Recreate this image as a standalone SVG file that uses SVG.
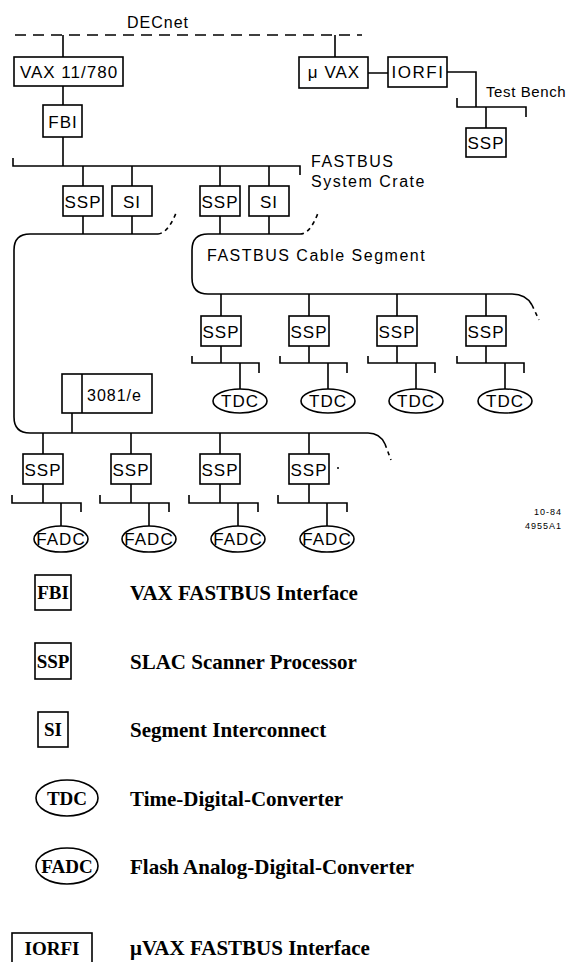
<svg xmlns="http://www.w3.org/2000/svg" width="574" height="962" viewBox="0 0 574 962">
<style>
.ln{fill:none;stroke:#000;stroke-width:1.6}
.ds{fill:none;stroke:#000;stroke-width:1.6;stroke-dasharray:4,4}
.bx{fill:#fff;stroke:#000;stroke-width:1.6}
.t{font-family:"Liberation Sans",Arial,sans-serif;font-size:17px;letter-spacing:1px;fill:#000;text-anchor:middle}
.tl{font-family:"Liberation Sans",Arial,sans-serif;font-size:16px;letter-spacing:1.5px;fill:#000}
.sm{font-family:"Liberation Sans",Arial,sans-serif;font-size:9px;letter-spacing:1px;fill:#000;text-anchor:end}
.lg{font-family:"Liberation Serif","Times New Roman",serif;font-weight:bold;font-size:21px;fill:#000}
.lc{text-anchor:middle;font-size:19px}
</style>
<rect width="574" height="962" fill="#fff"/>
<g id="connectors">
  <path class="ln" d="M15,35 H362" stroke-dasharray="11,7"/>
  <path class="ln" d="M63,35 V57 M63,86 V105 M63,137 V166"/>
  <path class="ln" d="M335,35 V57 M368,73 H388 M447,72 H476 V107"/>
  <path class="ln" d="M457,98 V107 H526 V117 M486,107 V128"/>
  <path class="ln" d="M13,158 V166 H300 V175"/>
  <path class="ln" d="M83,166 V186 M132,166 V186 M220,166 V186 M269,166 V186"/>
  <path class="ln" d="M83,216 V234 M132,216 V234 M220,216 V234 M269,216 V234"/>
  <path class="ln" d="M158,234 H30 Q14,234 14,250 V417 Q14,433 30,433 H368 Q380,433 385,444"/>
  <path class="ds" d="M158,234 Q168,233 176,213"/>
  <path class="ds" d="M385,444 L391,460"/>
  <path class="ln" d="M300,234 H208 Q192,234 192,250 V278 Q192,294 208,294 H512 Q526,294 532,305"/>
  <path class="ds" d="M300,234 Q310,234 318,213"/>
  <path class="ds" d="M532,305 L539,320"/>
  <path class="ln" d="M221,294 V316 M309,294 V316 M397,294 V316 M486,294 V316"/>
  <path class="ln" d="M221,346 V363 M192,356 V363 H259 V373 M240,363 V389"/>
  <path class="ln" d="M309,346 V363 M280,356 V363 H347 V373 M328,363 V389"/>
  <path class="ln" d="M397,346 V363 M368,356 V363 H435 V373 M416,363 V389"/>
  <path class="ln" d="M486,346 V363 M457,356 V363 H524 V373 M505,363 V389"/>
  <path class="ln" d="M72,413 V433"/>
  <path class="ln" d="M43,433 V454 M131,433 V454 M220,433 V454 M309,433 V454"/>
  <path class="ln" d="M43,484 V503 M12,495 V503 H81 V512 M61,503 V526"/>
  <path class="ln" d="M131,484 V503 M100,495 V503 H169 V512 M149,503 V526"/>
  <path class="ln" d="M220,484 V503 M189,495 V503 H258 V512 M238,503 V526"/>
  <path class="ln" d="M309,484 V503 M278,495 V503 H347 V512 M327,503 V526"/>
</g>
<text class="tl" x="158" y="28" style="text-anchor:middle;letter-spacing:1px">DECnet</text>
<g id="vax"><rect class="bx" x="14" y="57" width="109" height="29"/><text class="t" x="69" y="78">VAX 11/780</text></g>
<g id="fbi"><rect class="bx" x="43" y="105" width="39" height="32"/><text class="t" x="63" y="128">FBI</text></g>
<g id="uvax"><rect class="bx" x="299" y="57" width="69" height="31"/><text class="t" x="334" y="78">μ VAX</text></g>
<g id="iorfi"><rect class="bx" x="388" y="57" width="59" height="30"/><text class="t" x="418" y="78" style="letter-spacing:1.5px">IORFI</text></g>
<g id="ssp-tb"><rect class="bx" x="466" y="128" width="40" height="29"/><text class="t" x="486" y="149">SSP</text></g>
<text class="tl" x="486" y="97" style="font-size:15px;letter-spacing:0.6px">Test Bench</text>
<text class="tl" x="311" y="167">FASTBUS</text>
<text class="tl" x="311" y="187">System Crate</text>
<g id="ssp-c1"><rect class="bx" x="63" y="186" width="40" height="30"/><text class="t" x="83" y="208">SSP</text></g>
<g id="si-c1"><rect class="bx" x="112" y="186" width="40" height="30"/><text class="t" x="132" y="208">SI</text></g>
<g id="ssp-c2"><rect class="bx" x="200" y="186" width="40" height="30"/><text class="t" x="220" y="208">SSP</text></g>
<g id="si-c2"><rect class="bx" x="249" y="186" width="40" height="30"/><text class="t" x="269" y="208">SI</text></g>
<text class="tl" x="207" y="261">FASTBUS Cable Segment</text>
<g id="ssp-t1"><rect class="bx" x="201" y="316" width="40" height="30"/><text class="t" x="221" y="338">SSP</text></g>
<g id="ssp-t2"><rect class="bx" x="289" y="316" width="40" height="30"/><text class="t" x="309" y="338">SSP</text></g>
<g id="ssp-t3"><rect class="bx" x="377" y="316" width="40" height="30"/><text class="t" x="397" y="338">SSP</text></g>
<g id="ssp-t4"><rect class="bx" x="466" y="316" width="40" height="30"/><text class="t" x="486" y="338">SSP</text></g>
<g id="tdc1"><ellipse class="bx" cx="240" cy="401" rx="27" ry="12"/><text class="t" x="240" y="407">TDC</text></g>
<g id="tdc2"><ellipse class="bx" cx="328" cy="401" rx="27" ry="12"/><text class="t" x="328" y="407">TDC</text></g>
<g id="tdc3"><ellipse class="bx" cx="416" cy="401" rx="27" ry="12"/><text class="t" x="416" y="407">TDC</text></g>
<g id="tdc4"><ellipse class="bx" cx="505" cy="401" rx="27" ry="12"/><text class="t" x="505" y="407">TDC</text></g>
<g id="e3081"><rect class="bx" x="62" y="374" width="90" height="39"/><path class="ln" d="M82,374 V413"/><text class="tl" x="87" y="401" style="letter-spacing:1px">3081/e</text></g>
<g id="ssp-f1"><rect class="bx" x="23" y="454" width="40" height="30"/><text class="t" x="43" y="476">SSP</text></g>
<g id="ssp-f2"><rect class="bx" x="111" y="454" width="40" height="30"/><text class="t" x="131" y="476">SSP</text></g>
<g id="ssp-f3"><rect class="bx" x="200" y="454" width="40" height="30"/><text class="t" x="220" y="476">SSP</text></g>
<g id="ssp-f4"><rect class="bx" x="289" y="454" width="40" height="30"/><text class="t" x="309" y="476">SSP</text></g>
<circle cx="338" cy="468" r="1" fill="#000"/>
<g id="fadc1"><ellipse class="bx" cx="61" cy="539" rx="27" ry="13"/><text class="t" x="61" y="545">FADC</text></g>
<g id="fadc2"><ellipse class="bx" cx="149" cy="539" rx="27" ry="13"/><text class="t" x="149" y="545">FADC</text></g>
<g id="fadc3"><ellipse class="bx" cx="238" cy="539" rx="27" ry="13"/><text class="t" x="238" y="545">FADC</text></g>
<g id="fadc4"><ellipse class="bx" cx="327" cy="539" rx="27" ry="13"/><text class="t" x="327" y="545">FADC</text></g>
<text class="sm" x="562" y="515">10-84</text>
<text class="sm" x="562" y="529">4955A1</text>
<g id="legend">
  <g id="lg-fbi"><rect class="bx" x="35" y="575" width="36" height="35"/><text class="lg lc" x="53" y="599">FBI</text><text class="lg" x="130" y="600">VAX FASTBUS Interface</text></g>
  <g id="lg-ssp"><rect class="bx" x="35" y="643" width="36" height="36"/><text class="lg lc" x="53" y="668">SSP</text><text class="lg" x="130" y="669">SLAC Scanner Processor</text></g>
  <g id="lg-si"><rect class="bx" x="38" y="712" width="30" height="35"/><text class="lg lc" x="53" y="736">SI</text><text class="lg" x="130" y="737">Segment Interconnect</text></g>
  <g id="lg-tdc"><ellipse class="bx" cx="67" cy="798" rx="31" ry="18"/><text class="lg lc" x="67" y="805">TDC</text><text class="lg" x="130" y="806">Time-Digital-Converter</text></g>
  <g id="lg-fadc"><ellipse class="bx" cx="67" cy="866" rx="31" ry="18"/><text class="lg lc" x="67" y="873">FADC</text><text class="lg" x="130" y="874">Flash Analog-Digital-Converter</text></g>
  <g id="lg-iorfi"><rect class="bx" x="12" y="933" width="80" height="40"/><text class="lg lc" x="52" y="955">IORFI</text><text class="lg" x="130" y="955">μVAX FASTBUS Interface</text></g>
</g>
</svg>
